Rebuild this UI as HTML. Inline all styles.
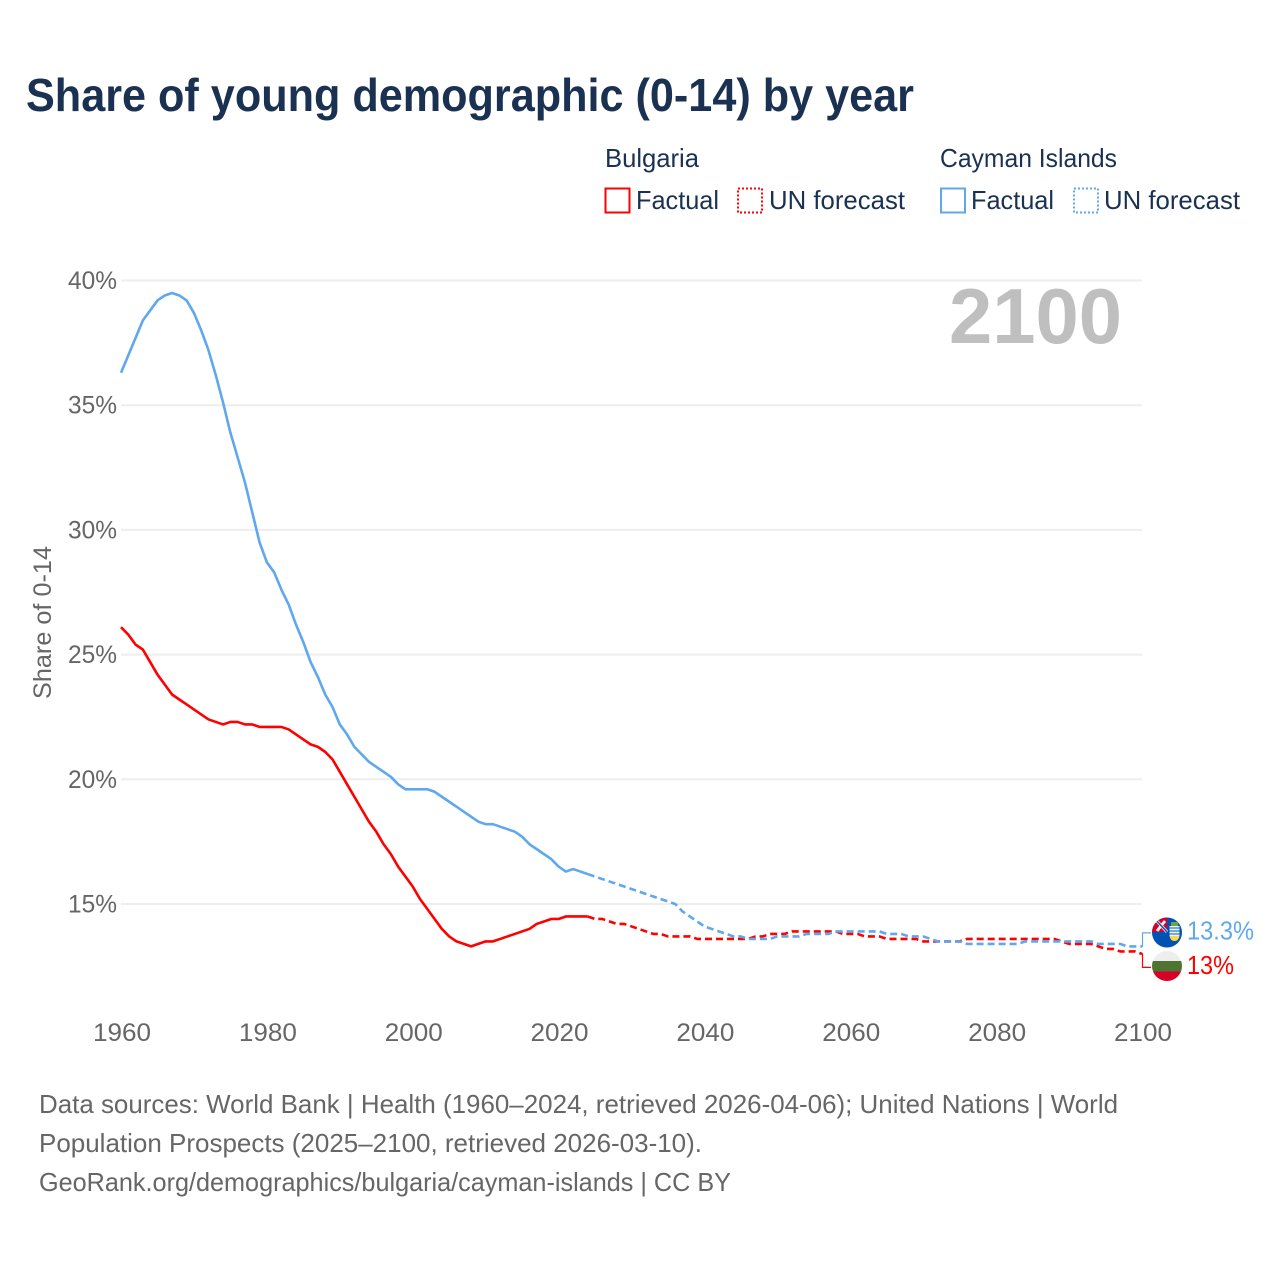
<!DOCTYPE html>
<html lang="en">
<head>
<meta charset="utf-8">
<title>Share of young demographic (0-14) by year</title>
<style>
html,body{margin:0;padding:0;background:#fff;width:1280px;height:1280px;overflow:hidden}
svg{display:block}
text{font-family:"Liberation Sans",sans-serif}
</style>
</head>
<body>
<svg id="chart" xmlns="http://www.w3.org/2000/svg" width="1280" height="1280" viewBox="0 0 1280 1280">
  <defs>
    <clipPath id="clip-cayman"><circle cx="1167" cy="932.5" r="15"/></clipPath>
    <clipPath id="clip-bulgaria"><circle cx="1167" cy="966" r="15"/></clipPath>
  </defs>
  <rect width="1280" height="1280" fill="#fff"/>
  <text x="26" y="111" font-size="46" font-weight="700" fill="#1a3152" textLength="888" lengthAdjust="spacingAndGlyphs">Share of young demographic (0-14) by year</text>

  <g font-size="26" fill="#1a3152">
    <text x="605" y="167" textLength="94" lengthAdjust="spacingAndGlyphs">Bulgaria</text>
    <text x="940" y="167" textLength="177" lengthAdjust="spacingAndGlyphs">Cayman Islands</text>
    <rect x="605.5" y="188.5" width="24" height="24" fill="none" stroke="#ff0000" stroke-width="2"/>
    <text x="636" y="209" textLength="83" lengthAdjust="spacingAndGlyphs">Factual</text>
    <rect x="738" y="188.5" width="24" height="24" fill="none" stroke="#ff0000" stroke-width="2" stroke-dasharray="2,2"/>
    <text x="769" y="209" textLength="136" lengthAdjust="spacingAndGlyphs">UN forecast</text>
    <rect x="941" y="188.5" width="24" height="24" fill="none" stroke="#5fa8ee" stroke-width="2"/>
    <text x="971" y="209" textLength="83" lengthAdjust="spacingAndGlyphs">Factual</text>
    <rect x="1074" y="188.5" width="24" height="24" fill="none" stroke="#5fa8ee" stroke-width="2" stroke-dasharray="2,2"/>
    <text x="1104" y="209" textLength="136" lengthAdjust="spacingAndGlyphs">UN forecast</text>
  </g>

  <g id="grid"></g>
  <g id="y-ticks"></g>
  <g id="x-ticks"></g>
  <text transform="translate(51,622.5) rotate(-90)" text-anchor="middle" font-size="25" fill="#666" textLength="153" lengthAdjust="spacingAndGlyphs">Share of 0-14</text>
  <text x="949" y="343" font-size="78" font-weight="700" fill="#bfbfbf" textLength="173" lengthAdjust="spacingAndGlyphs">2100</text>
  <g id="series"></g>

  <g clip-path="url(#clip-cayman)">
    <rect x="1152" y="917" width="30" height="31" fill="#0052b4"/>
    <rect x="1152" y="917" width="15" height="15" fill="#d80027"/>
    <path d="M1156 920 L1167 932 M1157 931 L1165 921" stroke="#f0f0f0" stroke-width="3"/>
    <path d="M1156 920 L1167 932" stroke="#0052b4" stroke-width="1.4"/>
    <rect x="1169.5" y="926" width="10" height="10" fill="#f0f0f0"/>
    <path d="M1169.5 928 h10 M1169.5 931 h10 M1169.5 934 h10" stroke="#2f7fd0" stroke-width="1.2"/>
    <path d="M1169.5 936 h10 q-1 5 -5 5 q-4 0 -5 -5z" fill="#ffda44"/>
    <rect x="1171" y="922" width="7" height="4" fill="#6da544"/>
  </g>
  <g clip-path="url(#clip-bulgaria)">
    <rect x="1152" y="951" width="30" height="10" fill="#eeeeee"/>
    <rect x="1152" y="961" width="30" height="10.5" fill="#4f7330"/>
    <rect x="1152" y="971.5" width="30" height="10" fill="#d80027"/>
  </g>

  <g id="end-labels"></g>

  <g font-size="26" fill="#666">
    <text x="39" y="1113" textLength="1079" lengthAdjust="spacingAndGlyphs">Data sources: World Bank | Health (1960–2024, retrieved 2026-04-06); United Nations | World</text>
    <text x="39" y="1152" textLength="663" lengthAdjust="spacingAndGlyphs">Population Prospects (2025–2100, retrieved 2026-03-10).</text>
    <text x="39" y="1191" textLength="692" lengthAdjust="spacingAndGlyphs">GeoRank.org/demographics/bulgaria/cayman-islands | CC BY</text>
  </g>
</svg>
<script>
const startYear = 1960;
const yTickValues = [15, 20, 25, 30, 35, 40];
const xTickValues = [1960, 1980, 2000, 2020, 2040, 2060, 2080, 2100];

const bulgariaFactual = [
  26.1,25.8,25.4,25.2,24.7,24.2,23.8,23.4,23.2,23.0,
  22.8,22.6,22.4,22.3,22.2,22.3,22.3,22.2,22.2,22.1,
  22.1,22.1,22.1,22.0,21.8,21.6,21.4,21.3,21.1,20.8,
  20.3,19.8,19.3,18.8,18.3,17.9,17.4,17.0,16.5,16.1,
  15.7,15.2,14.8,14.4,14.0,13.7,13.5,13.4,13.3,13.4,
  13.5,13.5,13.6,13.7,13.8,13.9,14.0,14.2,14.3,14.4,
  14.4,14.5,14.5,14.5,14.5
];
const bulgariaForecast = [
  14.4,14.4,14.3,14.2,14.2,
  14.1,14.0,13.9,13.8,13.8,13.7,13.7,13.7,13.7,13.6,
  13.6,13.6,13.6,13.6,13.6,13.6,13.6,13.7,13.7,13.8,
  13.8,13.8,13.9,13.9,13.9,13.9,13.9,13.9,13.9,13.8,
  13.8,13.8,13.7,13.7,13.7,13.6,13.6,13.6,13.6,13.6,
  13.5,13.5,13.5,13.5,13.5,13.5,13.6,13.6,13.6,13.6,
  13.6,13.6,13.6,13.6,13.6,13.6,13.6,13.6,13.6,13.5,
  13.4,13.4,13.4,13.4,13.3,13.2,13.2,13.1,13.1,13.1,
  13.0
];
const caymanFactual = [
  36.3,37.0,37.7,38.4,38.8,39.2,39.4,39.5,39.4,39.2,
  38.7,38.0,37.2,36.2,35.1,33.9,32.9,31.9,30.7,29.5,
  28.7,28.3,27.6,27.0,26.2,25.5,24.7,24.1,23.4,22.9,
  22.2,21.8,21.3,21.0,20.7,20.5,20.3,20.1,19.8,19.6,
  19.6,19.6,19.6,19.5,19.3,19.1,18.9,18.7,18.5,18.3,
  18.2,18.2,18.1,18.0,17.9,17.7,17.4,17.2,17.0,16.8,
  16.5,16.3,16.4,16.3,16.2
];
const caymanForecast = [
  16.1,16.0,15.9,15.8,15.7,
  15.6,15.5,15.4,15.3,15.2,15.1,15.0,14.7,14.5,14.3,
  14.1,14.0,13.9,13.8,13.7,13.7,13.6,13.6,13.6,13.6,
  13.7,13.7,13.7,13.7,13.8,13.8,13.8,13.8,13.9,13.9,
  13.9,13.9,13.9,13.9,13.9,13.8,13.8,13.8,13.7,13.7,
  13.7,13.6,13.5,13.5,13.5,13.5,13.4,13.4,13.4,13.4,
  13.4,13.4,13.4,13.4,13.5,13.5,13.5,13.5,13.5,13.5,
  13.5,13.5,13.5,13.5,13.4,13.4,13.4,13.4,13.3,13.3,
  13.3
];

const SVG_NS = 'http://www.w3.org/2000/svg';
const RED = '#ff0000';
const BLUE = '#5fa8ee';

function xScale(year) { return 121 + (year - 1960) * (1021 / 140); }
function yScale(v) { return 904 - (v - 15) * (623.5 / 25); }

function make(tag, parent, attrs) {
  const el = document.createElementNS(SVG_NS, tag);
  Object.keys(attrs).forEach(function (k) { el.setAttribute(k, attrs[k]); });
  parent.appendChild(el);
  return el;
}

function pathFrom(values, firstYear) {
  return values.map(function (v, i) {
    return (i ? 'L' : 'M') + xScale(firstYear + i).toFixed(2) + ' ' + yScale(v).toFixed(2);
  }).join(' ');
}

const gridGroup = document.getElementById('grid');
const yTickGroup = document.getElementById('y-ticks');
yTickValues.forEach(function (t) {
  const line = make('line', gridGroup, { x1: xScale(1960), x2: xScale(2100), y1: yScale(t), y2: yScale(t), stroke: '#eeeeee', 'stroke-width': 2 });
  
  
  const label = make('text', yTickGroup, { x: 117, y: yScale(t) + 8.5, 'text-anchor': 'end', 'font-size': 25, fill: '#666', textLength: 49, lengthAdjust: 'spacingAndGlyphs' });
  label.textContent = t + '%';
  
  
});

const xTickGroup = document.getElementById('x-ticks');
xTickValues.forEach(function (t) {
  const label = make('text', xTickGroup, { x: xScale(t) + 1, y: 1041, 'text-anchor': 'middle', 'font-size': 25, fill: '#666', textLength: 58, lengthAdjust: 'spacingAndGlyphs' });
  label.textContent = t;
  
  
});

const seriesGroup = document.getElementById('series');
function drawSeries(name, factual, forecast, color) {
  const solid = make('path', seriesGroup, { d: pathFrom(factual, startYear), fill: 'none', stroke: color, 'stroke-width': 2.6, 'stroke-linejoin': 'round' });
  
  
  const lastYear = startYear + factual.length - 1;
  const joined = [factual[factual.length - 1]].concat(forecast);
  const dashed = make('path', seriesGroup, { d: pathFrom(joined, lastYear), fill: 'none', stroke: color, 'stroke-width': 2.6, 'stroke-linejoin': 'round', 'stroke-dasharray': '7,4' });
  
  
}
drawSeries('bulgaria', bulgariaFactual, bulgariaForecast, RED);
drawSeries('cayman', caymanFactual, caymanForecast, BLUE);

const endGroup = document.getElementById('end-labels');
function drawEnd(name, value, labelY, color, width) {
  const ex = xScale(2100);
  const ey = yScale(value);
  const conn = make('path', endGroup, { d: 'M' + ex + ' ' + ey + ' H' + (ex + 0.5) + ' V' + labelY + ' H' + (ex + 9), fill: 'none', stroke: color, 'stroke-width': 1.2 });
  
  
  const label = make('text', endGroup, { x: 1187, y: labelY + 6.5, 'font-size': 26, fill: color, textLength: width, lengthAdjust: 'spacingAndGlyphs' });
  label.textContent = value + '%';
  
  
}
const caymanEnd = caymanForecast[caymanForecast.length - 1];
const bulgariaEnd = bulgariaForecast[bulgariaForecast.length - 1];
drawEnd('cayman', caymanEnd, yScale(caymanEnd) - 13.5, BLUE, 67);
drawEnd('bulgaria', bulgariaEnd, yScale(bulgariaEnd) + 13.5, RED, 47);
</script>
</body>
</html>
